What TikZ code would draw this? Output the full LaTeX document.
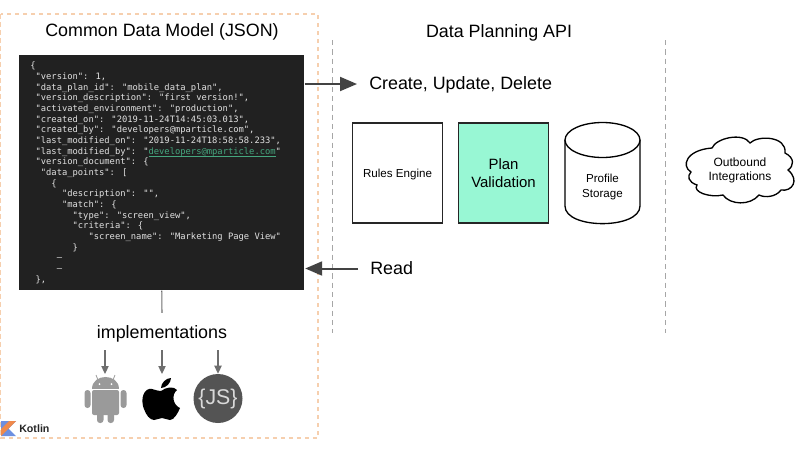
\documentclass[tikz,border=0pt]{standalone}
\usepackage{fontspec}
\setmainfont{Liberation Sans}
\newfontfamily\codefont{DejaVu Sans Mono}
\usetikzlibrary{arrows.meta}
\definecolor{planmint}{HTML}{98F7D4}
\definecolor{modelorange}{HTML}{F6CFAE}
\definecolor{apigrey}{HTML}{A6A6A6}
\definecolor{codeblack}{HTML}{212121}
\definecolor{codetext}{HTML}{E2E2E2}
\definecolor{codelink}{HTML}{45A67E}
\definecolor{flowgrey}{HTML}{434343}
\definecolor{implgrey}{HTML}{6E6E6E}
\definecolor{androidgrey}{HTML}{9A9A9A}
\definecolor{kotlinblue}{HTML}{6D8FE0}
\definecolor{kotlinorange}{HTML}{F08A4B}
\newcommand{\fsize}[1]{\fontsize{#1}{1.2\dimexpr #1pt\relax}\selectfont}
\tikzset{
  flowarrow/.style={draw=flowgrey,line width=1.5pt,-{Triangle[length=12.75pt,width=10.5pt]}},
  implarrow/.style={draw=implgrey,line width=0.8pt,-{Triangle[length=6pt,width=5.5pt]}},
  apiline/.style={draw=apigrey,line width=0.6pt,dash pattern=on 4pt off 3pt},
  headtext/.style={font=\fsize{13.4},text=black,inner sep=0pt},
  plainbox/.style={draw=black!85,line width=1pt,minimum width=67.5pt,minimum height=75pt,inner sep=0pt,align=center}
}
\begin{document}
\begin{tikzpicture}[x=0.75pt,y=0.75pt,yscale=-1,xscale=1]
\useasboundingbox (0,0) rectangle (800,454);

%Model frame and api lines
\draw [draw=modelorange,line width=0.9pt,dash pattern=on 3.5pt off 2.5pt] (0.8,14) rectangle (318,438);
\coordinate (apileft top) at (332,40);
\coordinate (apileft bottom) at (332,333);
\coordinate (apiright top) at (665,40);
\coordinate (apiright bottom) at (665,333);
\draw [apiline] (apileft top) -- (apileft bottom);
\draw [apiline] (apiright top) -- (apiright bottom);

% Text Node
\draw (162,31.5) node [headtext] (modeltitle) {Common Data Model (JSON)};
\draw (499,32.5) node [headtext] (apititle) {Data Planning API};

%Code panel
\draw (19,55) node [anchor=north west,fill=codeblack,minimum width=213.75pt,minimum height=176.25pt,inner sep=0pt] (codebox) {};
\draw (30,173) node [anchor=west,inner sep=0pt,align=left,text=codetext,font=\codefont\fontsize{6.6}{8}\selectfont] (codetext) {%
\{\\
~"version": 1,\\
~"data\_plan\_id": "mobile\_data\_plan",\\
~"version\_description": "first version!",\\
~"activated\_environment": "production",\\
~"created\_on": "2019-11-24T14:45:03.013",\\
~"created\_by": "developers@mparticle.com",\\
~"last\_modified\_on": "2019-11-24T18:58:58.233",\\
~"last\_modified\_by": "\textcolor{codelink}{\underline{\smash{developers@mparticle.com}}}"\\
~"version\_document": \{\\
~~"data\_points": [\\
~~~~\{\\
~~~~~~"description": "",\\
~~~~~~"match": \{\\
~~~~~~~~"type": "screen\_view",\\
~~~~~~~~"criteria": \{\\
~~~~~~~~~~~"screen\_name": "Marketing Page View"\\
~~~~~~~~\}\\
~~~~~–\\
~~~~~–\\
~\},};

%Create and read
\draw (357,85) node [anchor=west,headtext,inner xsep=9pt] (createlabel) {Create, Update, Delete};
\draw (358,268.5) node [anchor=west,headtext,inner xsep=9pt] (readlabel) {Read};
\coordinate (createstart) at (codebox.east |- 0,84);
\coordinate (createend) at (357,84);
\draw [flowarrow] (createstart) -- (createend);
\draw [flowarrow,shorten >=0.5pt] (readlabel.west) -- (codebox.east |- readlabel.west);

%Api boxes
\draw (397.5,173) node [plainbox] (rulesbox) {};
\draw (397.5,174) node [inner sep=0pt,font=\fsize{8.7}] (ruleslabel) {Rules Engine};
\draw (503.5,173) node [plainbox,fill=planmint,font=\fsize{11.2}] (planbox) {Plan\\Validation};
\draw [draw=black,line width=1pt] (565,140) -- (565,206) .. controls (565,229.5) and (640,229.5) .. (640,206) -- (640,140);
\draw [draw=black,line width=1pt,fill=white] (602.5,140) ellipse (37.5 and 17.5);
\draw (602.5,186.5) node [inner sep=0pt,align=center,font=\fontsize{8.7}{11.25}\selectfont] (storagelabel) {Profile\\Storage};

%Cloud
\draw [draw=black,line width=1pt] (691,172) .. controls (681,166) and (686,150) .. (712,148) .. controls (716,138) and (743,132) .. (750,143) .. controls (758,135) and (787,136) .. (785,153) .. controls (795,158) and (794,166) .. (788,170) .. controls (800,180) and (792,192) .. (781,190) .. controls (776,197) and (765,198) .. (759,195) .. controls (750,206) and (730,205) .. (723,195) .. controls (710,198) and (692,192) .. (697,185) .. controls (688,182) and (687,176) .. (691,172) -- cycle;
\draw (740,170.5) node [inner sep=0pt,align=center,font=\fsize{9}] (cloudlabel) {Outbound\\Integrations};

%Implementations
\draw (162,333.5) node [headtext,inner ysep=9pt] (impllabel) {implementations};
\draw [draw=implgrey,line width=0.8pt] (codebox.south) -- (impllabel.north);

\coordinate (androidstart) at (105,350);
\coordinate (androidend) at (105,374);
\coordinate (applestart) at (162,350);
\coordinate (appleend) at (162,374);
\coordinate (jsstart) at (218,350);
\draw (218,398.5) node [circle,fill=black!67,minimum size=36.75pt,inner sep=0pt,text=white!85!black,font=\fsize{16}] (jsicon) {\{JS\}};
\draw [implarrow] (androidstart) -- (androidend);
\draw [implarrow] (applestart) -- (appleend);
\draw [implarrow] (jsstart) -- (jsicon.north);

%Android
\fill [androidgrey] (92,389) .. controls (92,373) and (119,373) .. (119,389) -- cycle;
\draw [androidgrey,line width=0.6pt] (98,380) -- (96,375) (113,380) -- (115,375);
\fill [white] (99.5,384) circle (1) (111.5,384) circle (1);
\fill [androidgrey,rounded corners=1.5pt] (92,390) -- (119,390) -- (119,415) -- (92,415) -- cycle;
\fill [androidgrey,rounded corners=2.2pt] (84.5,390) rectangle (90.5,408) (120.5,390) rectangle (126.5,408) (97,410) rectangle (103.5,423) (107.5,410) rectangle (114,423);

%Apple
\fill [black] (161,391) .. controls (156,391) and (152,388) .. (149,389) .. controls (142,391) and (141,402) .. (144,409) .. controls (146,415) and (150,420) .. (154,420) .. controls (157,420) and (159,418) .. (162,418) .. controls (165,418) and (167,420) .. (170,420) .. controls (174,420) and (178,413) .. (180,408) .. controls (173,405) and (171,395) .. (177,390) .. controls (174,386) and (166,387) .. (161,391) -- cycle;
\fill [black] (161,388) .. controls (161,383) and (166,378) .. (171,378) .. controls (171,383) and (166,388) .. (161,388) -- cycle;

%Kotlin
\fill [kotlinblue] (1,421) -- (16,421) -- (8.5,428.5) -- (16,436) -- (1,436) -- cycle;
\fill [kotlinorange] (1,436) -- (1,429) -- (9,421) -- (16,421) -- cycle;
\draw (19,429) node [anchor=west,inner sep=0pt,font=\fsize{8}\bfseries,text=black!85] (kotlinlabel) {Kotlin};

\end{tikzpicture}
\end{document}
